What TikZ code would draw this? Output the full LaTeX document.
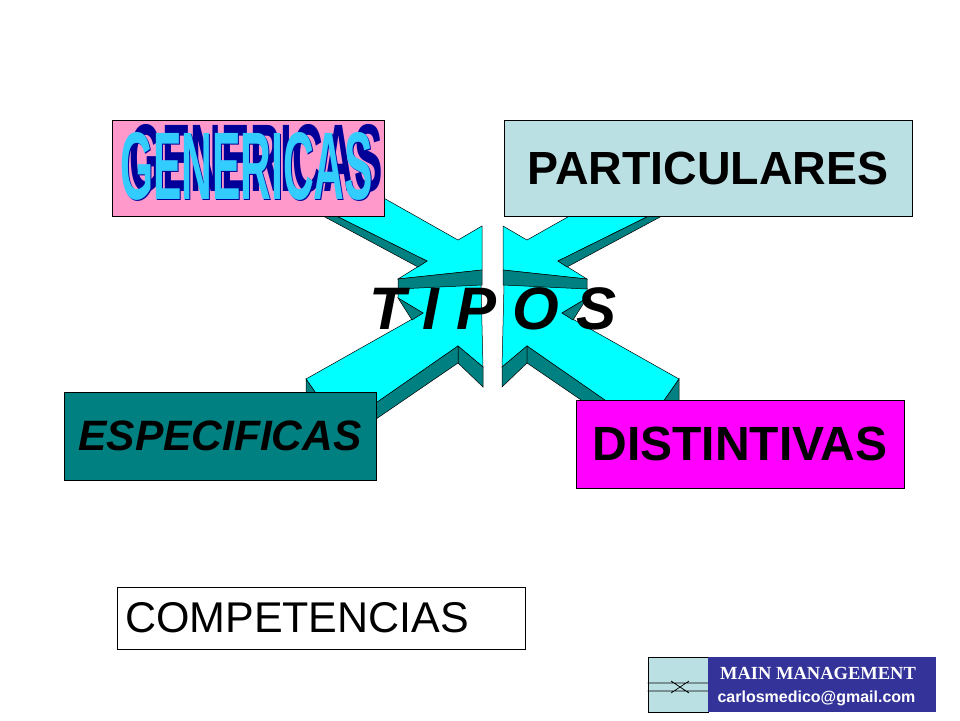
\documentclass[tikz,border=0pt]{standalone}
\usepackage{fontspec}
\usepackage{graphicx}
\setmainfont{Liberation Sans}
\newfontfamily\serifhead{Liberation Serif}

\definecolor{genfill}{HTML}{FF99CC}
\definecolor{partfill}{HTML}{BBE0E3}
\definecolor{especfill}{HTML}{008080}
\definecolor{distfill}{HTML}{FF00FF}
\definecolor{arrowtop}{HTML}{00FFFF}
\definecolor{arrowside}{HTML}{008080}
\definecolor{wordlight}{HTML}{33CCFF}
\definecolor{worddark}{HTML}{000099}
\definecolor{logoblue}{HTML}{333399}

% left hand arrows, the right hand ones are mirrored
\newcommand\updart{%
  \path[top face] (350,179) -- (458,240) -- (482,226) -- (482,270) -- (398,279)
                  -- (427,261) -- (310,203) -- cycle;
  \path[side face] (398,279) -- (482,270) -- (482,285) -- (398,289) -- cycle;
  \path[side face] (427,261) -- (418,267) -- (310,209) -- (310,203) -- cycle;
}
\newcommand\lowdart{%
  \path[top face] (306,379) -- (423,313) -- (398,298) -- (398,288) -- (481,284)
                  -- (483,367) -- (458,346) -- (340,428) -- cycle;
  \path[side face] (398,298) -- (423,313) -- (412,320) -- cycle;
  \path[side face] (458,346) -- (483,367) -- (483,387) -- (458,363) -- cycle;
  \path[side face] (458,346) -- (458,363) -- (360,430) -- (360,414) -- cycle;
  \path[side face] (306,379) -- (306,402) -- (322,402) -- cycle;
}
\newcommand\genword{\resizebox{253pt}{67pt}{\bfseries GENERICAS}}

\begin{document}
\begin{tikzpicture}[x=1pt,y=-1pt,
    tipbox/.style={draw=black,line width=0.8pt,inner sep=0pt},
    top face/.style={fill=arrowtop,draw=black,line width=0.5pt},
    side face/.style={fill=arrowside,draw=black,line width=0.5pt}]
  \useasboundingbox (0,0) rectangle (960,720);

  % block arrows
  \lowdart
  \begin{scope}[xshift=985pt,xscale=-1]
    \lowdart
  \end{scope}
  \updart
  \begin{scope}[xshift=985pt,xscale=-1]
    \updart
  \end{scope}

  % boxes
  \node[tipbox,fill=genfill,minimum width=272,minimum height=96] (generic) at (248,168) {};
  \node[inner sep=0pt] (gentext) at (246.5,166.5)
       {\rlap{\hspace*{9.5pt}\smash{\raisebox{8.5pt}{\color{worddark}\genword}}}%
        \rlap{\hspace*{1pt}\smash{\raisebox{-1pt}{\color{worddark}\genword}}}%
        \color{wordlight}\genword};

  \node[tipbox,fill=partfill,minimum width=408,minimum height=96] (partic) at (708,168)
       {\fontsize{46.5}{50}\selectfont\bfseries PARTICULARES};
  \node[tipbox,fill=especfill,minimum width=312,minimum height=88] (especif) at (220,436)
       {\fontsize{42.5}{46}\selectfont\bfseries\itshape ESPECIFICAS};
  \node[tipbox,fill=distfill,minimum width=328,minimum height=88] (distint) at (740,444)
       {\fontsize{48}{52}\selectfont\bfseries DISTINTIVAS};

  \node (tipos) at (493,309) {\fontsize{60}{60}\selectfont\bfseries\itshape T I P O S};

  \node[tipbox,fill=white,minimum height=62,text width=392,align=left,inner sep=8pt]
       (compet) at (321,618) {\fontsize{43}{46}\selectfont COMPETENCIAS};

  % logo
  \node[tipbox,fill=partfill,minimum width=60,minimum height=55] (logoicon) at (678,684.5) {};
  \node[tipbox,draw=none,fill=logoblue,minimum width=228,minimum height=55] (logotext) at (822,684.5) {};
  \draw[line width=0.7pt] (logoicon.west |- 0,683) -- (logoicon.east |- 0,683)
        (logoicon.west |- 0,691) -- (logoicon.east |- 0,691)
        (671,681) -- (689,693) (671,693) -- (689,681);
  \node[text=white] (mainname) at (818,673)
       {\serifhead\bfseries\fontsize{18.5}{20}\selectfont MAIN MANAGEMENT};
  \node[text=white] (mainmail) at (816.5,698)
       {\bfseries\fontsize{16}{18}\selectfont carlosmedico@gmail.com};
\end{tikzpicture}
\end{document}
